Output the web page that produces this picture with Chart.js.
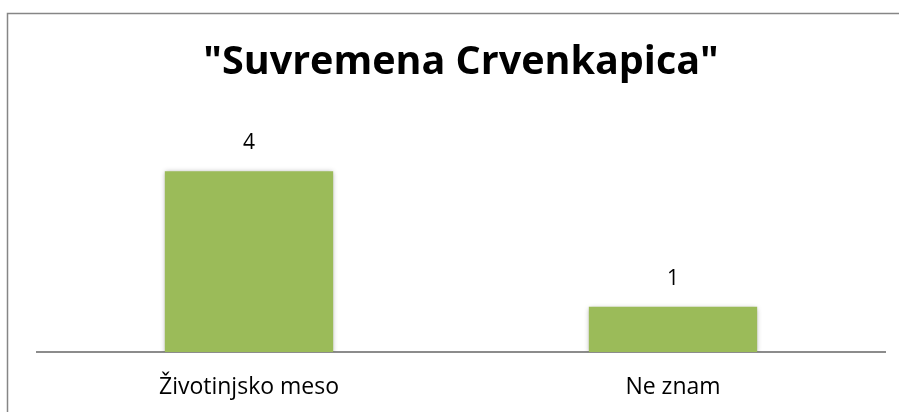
<!DOCTYPE html>
<html>
<head>
<meta charset="utf-8">
<script src="https://cdn.jsdelivr.net/npm/chart.js@4.4.0/dist/chart.umd.min.js"></script>
<style>
html,body{margin:0;padding:0;background:#fff;}
#wrap{width:899px;height:412px;position:relative;}
</style>
</head>
<body>
<div id="wrap"><canvas id="c" width="899" height="412"></canvas></div>
<script>
const titleText = '"Suvremena Crvenkapica"';
const categories = ['Životinjsko meso', 'Ne znam'];
const values = [4, 1];

const frame = {
  id: 'frame',
  beforeDraw(chart) {
    const ctx = chart.ctx;
    ctx.save();
    ctx.fillStyle = '#fff';
    ctx.fillRect(0, 0, chart.width, chart.height);
    ctx.strokeStyle = '#868686';
    ctx.lineWidth = 1.5;
    ctx.strokeRect(7.5, 13.5, 1000, 1000);
    ctx.restore();
  }
};
const shadow = {
  id: 'shadow',
  beforeDatasetsDraw(chart) {
    const ctx = chart.ctx;
    ctx.save();
    ctx.shadowColor = 'rgba(0,0,0,0.35)';
    ctx.shadowBlur = 5;
    ctx.shadowOffsetX = 0;
    ctx.shadowOffsetY = 1;
  },
  afterDatasetsDraw(chart) {
    chart.ctx.restore();
  }
};
const labels = {
  id: 'vlabels',
  afterDatasetsDraw(chart) {
    const ctx = chart.ctx;
    const meta = chart.getDatasetMeta(0);
    ctx.save();
    ctx.fillStyle = '#000';
    ctx.font = '21px "Open Sans"';
    ctx.textAlign = 'center';
    ctx.textBaseline = 'alphabetic';
    meta.data.forEach((bar, i) => {
      ctx.fillText(String(values[i]), bar.x, bar.y - 22);
    });
    ctx.restore();
  }
};

new Chart(document.getElementById('c'), {
  type: 'bar',
  data: {
    labels: categories,
    datasets: [{
      data: values,
      backgroundColor: '#9BBB59',
      borderWidth: 0,
      categoryPercentage: 1,
      barPercentage: 0.397
    }]
  },
  options: {
    responsive: false,
    animation: false,
    devicePixelRatio: 1,
    layout: { padding: { left: 37, right: 14, top: 0, bottom: 0 } },
    plugins: {
      legend: { display: false },
      tooltip: { enabled: false },
      title: {
        display: true,
        text: titleText,
        color: '#000',
        font: { family: '"Open Sans"', size: 39.5, weight: 'bold' },
        padding: { top: 39, bottom: 39.6 }
      }
    },
    scales: {
      x: {
        grid: { display: false },
        border: { display: true, color: '#8c8c8c', width: 2 },
        ticks: { color: '#000', font: { family: '"Open Sans"', size: 23 }, padding: 14 },
        afterFit(scale) { scale.height = 60; }
      },
      y: {
        display: false,
        min: 0,
        max: 5
      }
    }
  },
  plugins: [frame, shadow, labels]
});
</script>
</body>
</html>
